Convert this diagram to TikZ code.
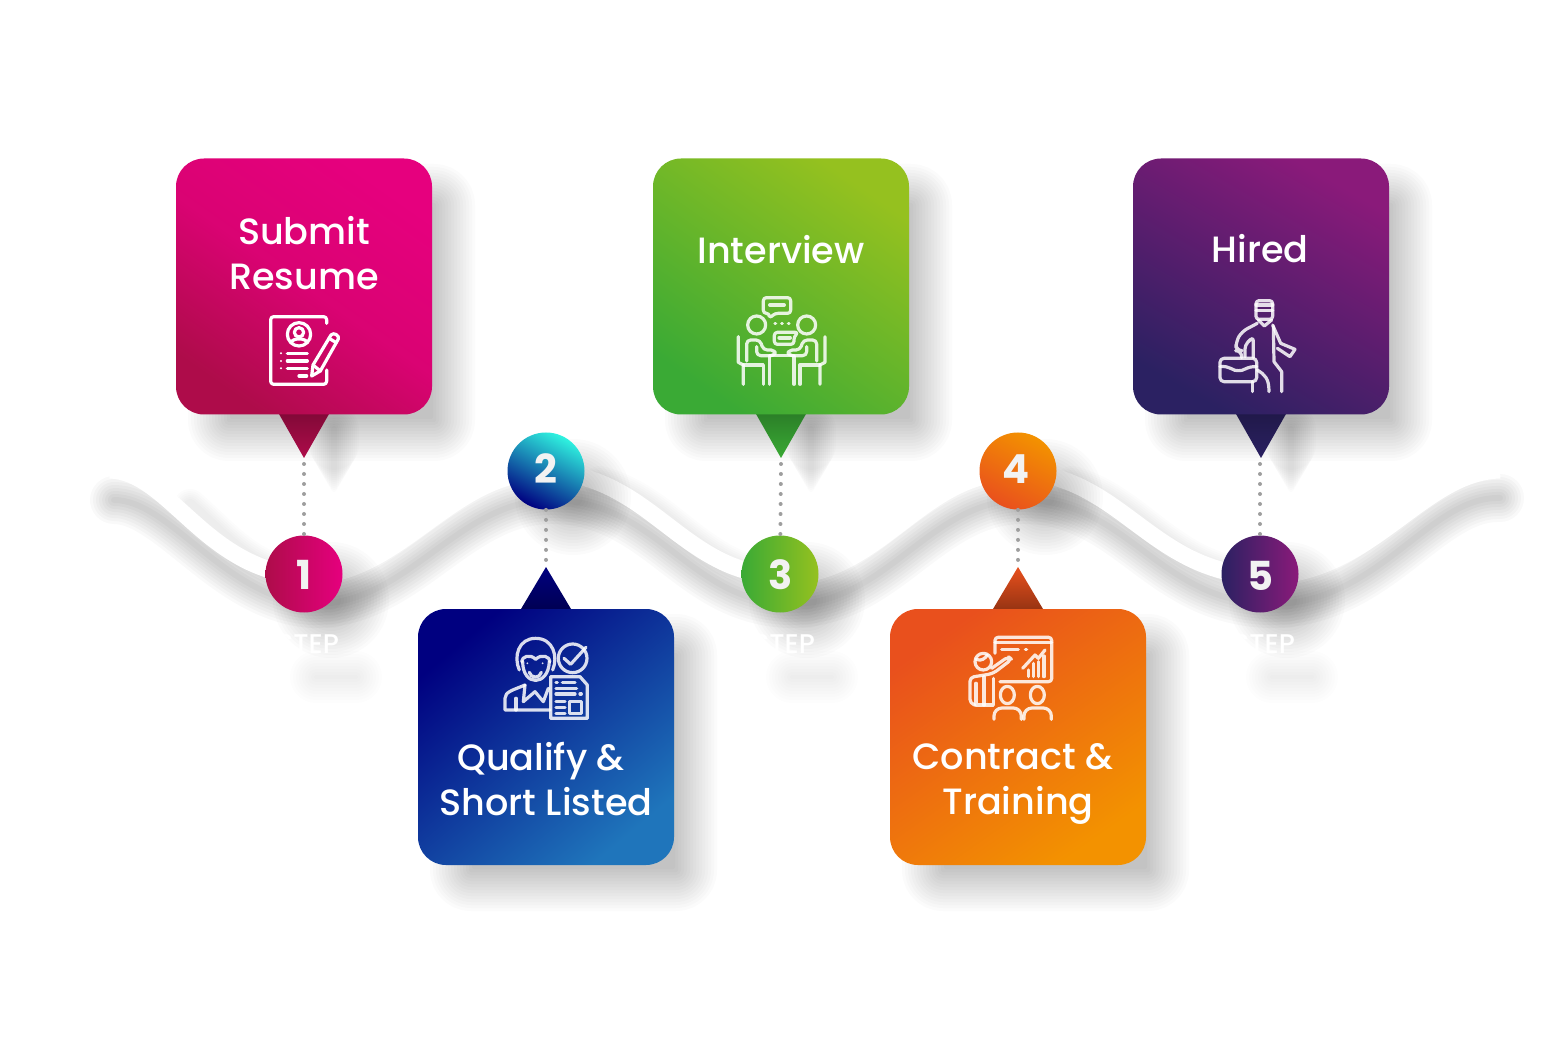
\documentclass[tikz,border=0pt]{standalone}
\usepackage{fontspec}
\setmainfont{Poppins}
\newfontfamily\titlefont{Poppins Medium}
\definecolor{berryA}{HTML}{E6007E}
\definecolor{berryB}{HTML}{AE0C4A}
\definecolor{navyA}{HTML}{000080}
\definecolor{navyB}{HTML}{1F75BB}
\definecolor{cyanA}{HTML}{2FF3E0}
\definecolor{leafA}{HTML}{95C11F}
\definecolor{leafB}{HTML}{3AAA35}
\definecolor{flameA}{HTML}{F39200}
\definecolor{flameB}{HTML}{E9501D}
\definecolor{plumA}{HTML}{8A1A7A}
\definecolor{plumB}{HTML}{2B2162}
\tikzset{
  cardbox/.style={rectangle, rounded corners=14pt, minimum size=128pt, inner sep=0pt, shade},
  stepdot/.style={circle, minimum size=38.5pt, inner sep=0pt, shade, text=white!95!black,
    font=\fontsize{20}{20}\selectfont\bfseries},
  cardtitle/.style={align=center, text=white, inner sep=0pt,
    font=\titlefont\fontsize{18.3}{22.5}\selectfont},
  steptext/.style={text=white, inner sep=0pt, font=\titlefont\fontsize{13.5}{13.5}\selectfont},
  dotline/.style={draw=black!38, line width=2pt, line cap=round, dash pattern=on 0pt off 5pt},
  iconline/.style={draw=white, draw opacity=0.85, line width=1.6pt, line cap=round, line join=round},
}
% soft shadows, built from stacked see-through layers
\newcommand{\cardshadow}[4]{
  \foreach \d in {-21,-18,...,22} {
    \fill[black, opacity=0.016, rounded corners={max(1,10+\d*0.5)*1pt}]
      (#1-\d,#2-\d) rectangle (#3+\d,#4+\d);
  }
}
\newcommand{\discshadow}[3]{
  \foreach \d in {-24,-21,...,26} {
    \fill[black, opacity=0.014] (#1,#2) circle ({#3+\d});
  }
}
\newcommand{\tipshadow}[2]{
  \foreach \w in {3,5,...,25} {
    \draw[black, opacity=0.011, line width=\w pt, line cap=round] (#1,#2) -- (#1,#2+66-2*\w);
  }
}
\newcommand{\wavepath}{(110,470) .. controls (170,472) and (205,570) .. (304,576)
  .. controls (400,578) and (450,470) .. (546,472)
  .. controls (650,474) and (680,572) .. (780,576)
  .. controls (880,578) and (920,470) .. (1018,472)
  .. controls (1120,474) and (1150,572) .. (1260,576)
  .. controls (1370,578) and (1420,472) .. (1500,470)}
\newcommand{\waveshadow}{(114,500) .. controls (170,500) and (225,598) .. (312,604)
  .. controls (408,606) and (458,498) .. (554,500)
  .. controls (658,502) and (688,600) .. (788,604)
  .. controls (888,606) and (928,498) .. (1026,500)
  .. controls (1128,502) and (1158,600) .. (1268,604)
  .. controls (1378,606) and (1428,496) .. (1500,498)}

\begin{document}
\begin{tikzpicture}[x=0.5pt, y=-0.5pt]
\useasboundingbox (0,0) rectangle (1563,1042);
\fill[white] (0,0) rectangle (1563,1042);

% wave and its shadow
\foreach \w in {3,6,...,24} {
  \draw[black, opacity=0.024, line width=\w pt, line cap=round] \waveshadow;
}
\foreach \w in {6,8,...,16} {
  \draw[black, opacity=0.012, line width=\w pt, line cap=round]
    (190,505) .. controls (225,535) and (250,570) .. (304,576)
    (600,482) .. controls (670,500) and (700,570) .. (780,576)
    (1072,482) .. controls (1140,500) and (1170,570) .. (1260,576);
}
\draw[white, line width=8.5pt] \wavepath;

% shadows under everything else
\foreach \x/\y in {304/159, 781/159, 1261/159} {
  \cardshadow{\x-95}{\y+26}{\x+150}{\y+281}
  \tipshadow{\x+30}{\y+270}
}
\foreach \x/\y in {546/609, 1018/609} {
  \cardshadow{\x-95}{\y+26}{\x+150}{\y+281}
}
\foreach \x/\y in {304/574, 546/471, 780/574, 1018/471, 1260/574} {
  \discshadow{\x+27}{\y+26}{34}
}
\foreach \x in {304, 780, 1260} {
  \foreach \w in {2,5,...,26} {
    \draw[black, opacity=0.008, line width=\w pt, line cap=round] (\x+12,677) -- (\x+52,677);
  }
}

% step circles
\foreach \n/\x/\y/\ca/\cb/\ang in {1/304/574/berryA/berryB/-90, 2/546/471/cyanA/navyA/-28,
    3/780/574/leafA/leafB/-90, 4/1018/471/flameA/flameB/-28, 5/1260/574/plumA/plumB/-90} {
  \node[stepdot, top color=\ca, bottom color=\cb, shading angle=\ang] (step\n) at (\x,\y) {};
}
\node[stepdot, shade=false, fill=none] (num1) at (304,575) {1};
\node[stepdot, shade=false, fill=none] (num2) at (546,469) {2};
\node[stepdot, shade=false, fill=none] (num3) at (781,575) {3};
\node[stepdot, shade=false, fill=none] (num4) at (1016,469) {4};
\node[stepdot, shade=false, fill=none] (num5) at (1260,576) {5};

% dotted links
\coordinate (dot1) at (304,464);
\coordinate (dot2) at (546,562);
\coordinate (dot3) at (781,464);
\coordinate (dot4) at (1018,562);
\coordinate (dot5) at (1260,464);
\draw[dotline] (dot1) -- (step1);
\draw[dotline] (step2) -- (dot2);
\draw[dotline] (dot3) -- (step3);
\draw[dotline] (step4) -- (dot4);
\draw[dotline] (dot5) -- (step5);

% cards with their pointers
\foreach \n/\x/\ca/\cb/\ang/\m in {1/304/berryA/berryB/-35/78, 3/781/leafA/leafB/-35/50, 5/1261/plumA/plumB/-30/50} {
  \shade[top color=\cb!75!black, bottom color=\cb] (\x-25,414) -- (\x+25,414) -- (\x,458) -- cycle;
  \node[cardbox, top color=\ca, bottom color=\cb, middle color=\ca!\m!\cb, shading angle=\ang] (card\n) at (\x,286.5) {};
}
\foreach \n/\x/\ca/\cb/\ang in {2/546/navyA/navyB/40, 4/1018/flameB/flameA/35} {
  \shade[top color=\ca, bottom color=\ca!65!black] (\x-25,609) -- (\x,567) -- (\x+25,609) -- cycle;
  \node[cardbox, top color=\ca, bottom color=\cb, shading angle=\ang] (card\n) at (\x,737) {};
}

% titles
\node[cardtitle] (title1) at (304,253) {Submit\\Resume};
\node[cardtitle] (title2) at (546,779) {Qualify \&\hspace*{5pt}\\Short Listed};
\node[cardtitle] (title3) at (781,250) {Interview};
\node[cardtitle] (title4) at (1018,784) {Contract \&\hspace*{5pt}\\Training};
\node[cardtitle] (title5) at (1260,249) {Hired};

\node[steptext] (label1) at (308,644) {STEP};
\node[steptext] (label3) at (784,644) {STEP};
\node[steptext] (label5) at (1264,644) {STEP};

% resume icon
\begin{scope}[shift={(255,305)}, scale=0.3333, iconline/.append style={draw opacity=1}]
  \draw[iconline, rounded corners=1.5pt] (215,55) -- (215,35) -- (47,35) -- (47,238) -- (215,238) -- (215,195);
  \draw[iconline] (132,88) circle (35);
  \draw[iconline] (132,82) circle (14);
  \draw[iconline] (108,113) .. controls (112,98) and (152,98) .. (157,113);
  \foreach \y in {145,168,190} {
    \fill[white] (78,\y) circle (3.5);
    \draw[iconline] (97,\y) -- (157,\y);
  }
  \draw[iconline] (132,213) -- (155,213);
  \draw[iconline] (170,213) -- (174,180) -- (228,90) .. controls (235,80) and (255,92) .. (250,102) -- (196,198) -- cycle;
  \draw[iconline] (174,180) -- (196,198);
  \draw[iconline] (222,100) -- (244,113);
\end{scope}

% candidate icon
\begin{scope}[shift={(480,620)}, scale=0.3333]
  \draw[iconline] (118,150) .. controls (100,110) and (115,55) .. (167,55) .. controls (220,55) and (235,110) .. (218,150);
  \draw[iconline] (125,125) .. controls (125,110) and (150,100) .. (167,118) .. controls (185,100) and (210,110) .. (210,125);
  \draw[iconline] (128,125) .. controls (128,200) and (205,200) .. (208,125);
  \draw[iconline] (148,157) .. controls (152,176) and (180,176) .. (184,157);
  \fill[white, opacity=0.85] (142,130) circle (3) (188,130) circle (3);
  \draw[iconline] (278,115) circle (43);
  \draw[iconline] (252,115) -- (272,133) -- (318,82);
  \draw[iconline] (210,270) -- (75,270) -- (75,235) .. controls (75,215) and (100,210) .. (135,195);
  \draw[iconline] (108,235) -- (108,270);
  \draw[iconline] (135,195) -- (130,245) -- (165,215) -- (190,245) -- (205,205);
  \draw[iconline] (212,295) -- (212,170) -- (300,170) -- (322,195) -- (322,295) -- cycle;
  \draw[iconline] (228,187) -- (232,187) (247,187) -- (285,187) (228,205) -- (290,205) (228,222) -- (285,222) (300,222) -- (304,222);
  \draw[iconline] (228,245) -- (255,245) (228,262) -- (255,262) (228,280) -- (255,280);
  \draw[iconline] (268,245) rectangle (305,280);
\end{scope}

% meeting icon
\begin{scope}[shift={(720,285)}, scale=0.3333]
  \draw[iconline, rounded corners=1.5pt] (130,38) -- (212,38) -- (212,85) -- (165,85) -- (148,100) -- (148,85) -- (130,85) -- cycle;
  \draw[iconline, line width=2pt] (150,60) -- (192,60);
  \draw[iconline] (110,120) circle (27);
  \draw[iconline] (260,120) circle (27);
  \draw[iconline] (165,115) -- (167,115) (185,115) -- (187,115) (205,115) -- (207,115);
  \draw[iconline, rounded corners=1.5pt] (163,142) -- (235,142) -- (222,155) -- (222,178) -- (163,178) -- cycle;
  \draw[iconline, line width=2pt] (178,158) -- (210,158);
  \draw[iconline] (148,212) -- (222,212);
  \foreach \s in {1,-1} {
    \begin{scope}[shift={(185,0)}, xscale=\s]
      \draw[iconline] (-130,155) -- (-130,232) -- (-115,240) -- (-115,298);
      \draw[iconline] (-115,240) -- (-55,240) -- (-55,298);
      \draw[iconline] (-37,215) -- (-37,298);
      \draw[iconline, rounded corners=2pt] (-105,228) -- (-105,165) -- (-65,165) -- (-55,195) -- (-20,195) -- (-20,212) -- (-75,212) -- (-75,185);
    \end{scope}
  }
\end{scope}

% presentation icon
\begin{scope}[shift={(950,620)}, scale=0.3333]
  \draw[iconline, rounded corners=1.5pt] (135,100) -- (135,52) -- (305,52) -- (305,185) -- (150,185);
  \draw[iconline] (135,68) -- (305,68);
  \draw[iconline] (155,88) -- (205,88) (226,88) -- (230,88);
  \draw[iconline] (218,145) -- (255,105) -- (265,115) -- (285,90);
  \draw[iconline] (235,150) -- (235,170) (250,130) -- (250,170) (265,125) -- (265,170) (282,108) -- (282,170);
  \draw[iconline] (100,125) circle (25);
  \draw[iconline] (78,118) .. controls (95,125) and (105,115) .. (112,105);
  \draw[iconline, rounded corners=2pt] (75,255) -- (60,250) -- (60,172) -- (105,165) -- (130,160) -- (185,118) -- (175,110) -- (125,145);
  \draw[iconline] (78,190) -- (78,255) -- (130,255) -- (130,175);
  \draw[iconline] (102,170) -- (102,255);
  \draw[iconline] (172,225) ellipse [x radius=21, y radius=26];
  \draw[iconline] (262,225) ellipse [x radius=21, y radius=26];
  \foreach \x in {173,263} {
    \draw[iconline, rounded corners=4pt] (\x-41,298) -- (\x-41,264) -- (\x+41,264) -- (\x+41,298);
  }
\end{scope}

% worker icon
\begin{scope}[shift={(1200,290)}, scale=0.3333]
  \draw[iconline, rounded corners=1.5pt] (168,32) -- (218,32) -- (218,88) -- (168,88) -- cycle;
  \draw[iconline] (168,45) -- (218,45) (168,62) -- (218,62);
  \draw[iconline] (175,90) -- (193,108) -- (215,90);
  \draw[iconline, rounded corners=3pt] (172,100) -- (125,125) -- (108,155) -- (108,182) -- (125,182) -- (125,203);
  \draw[iconline, rounded corners=2pt] (135,200) -- (135,165) -- (160,140) -- (160,203);
  \draw[iconline] (218,105) -- (242,160) -- (285,178) -- (270,200) -- (232,175);
  \draw[iconline] (220,110) -- (222,215) -- (245,245) -- (245,305);
  \draw[iconline, rounded corners=2pt] (60,205) -- (170,205) -- (170,275) -- (60,275) -- cycle;
  \draw[iconline] (60,230) .. controls (90,226) and (100,245) .. (115,242) .. controls (130,245) and (140,228) .. (170,230);
  \draw[iconline] (158,275) -- (158,305);
  \draw[iconline] (172,240) .. controls (195,255) and (207,265) .. (207,305);
\end{scope}
\end{tikzpicture}
\end{document}
